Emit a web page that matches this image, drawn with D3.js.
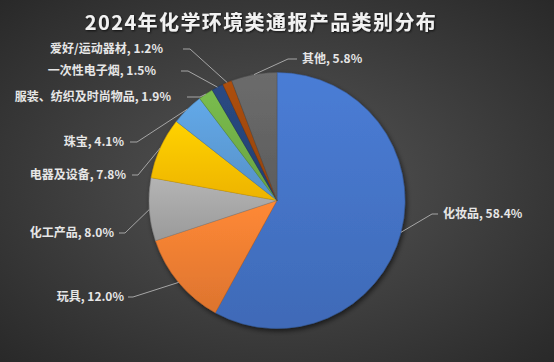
<!DOCTYPE html>
<html>
<head>
<meta charset="utf-8">
<script src="https://cdn.jsdelivr.net/npm/d3@7"></script>
<style>
  html, body { margin: 0; padding: 0; background: #3a3a3a; }
  svg { display: block; }
</style>
</head>
<body>
<script>
// chart data
const categories = ['化妆品', '玩具', '化工产品', '电器及设备', '珠宝', '服装、纺织及时尚物品', '一次性电子烟', '爱好/运动器材', '其他'];
const shares = [58.4, 12.0, 8.0, 7.8, 4.1, 1.9, 1.5, 1.2, 5.8];
const colors = ['#4472c4', '#ed7d31', '#a5a5a5', '#ffc000', '#5b9bd5', '#70ad47', '#264478', '#9e480e', '#636363'];
const title = '2024年化学环境类通报产品类别分布';

// where each leader line bends and where its label sits
const labelLayout = [
  { elbow: [432, 214], tail: 438, tx: 443, anchor: 'start' },
  { elbow: [133, 297], tail: 128, tx: 124, anchor: 'end' },
  { elbow: [125, 233], tail: 119, tx: 114, anchor: 'end' },
  { elbow: [138, 175], tail: 132, tx: 126, anchor: 'end' },
  { elbow: [137, 142], tail: 130, tx: 124, anchor: 'end' },
  { elbow: [200, 97], tail: 187, tx: 171, anchor: 'end' },
  { elbow: [188, 71], tail: 181, tx: 156, anchor: 'end' },
  { elbow: [190, 49], tail: 183, tx: 163, anchor: 'end' },
  { elbow: [288, 59], tail: 297, tx: 302, anchor: 'start' }
];

const width = 554, height = 362;
const cx = 277, cy = 200.5, radius = 128;

const svg = d3.select('body').append('svg')
  .attr('width', width)
  .attr('height', height);

const defs = svg.append('defs');

const bg = defs.append('radialGradient')
  .attr('id', 'bg')
  .attr('cx', '50%').attr('cy', '50%').attr('r', '75%');
bg.append('stop').attr('offset', '0%').attr('stop-color', '#565656');
bg.append('stop').attr('offset', '100%').attr('stop-color', '#262626');

const shadow = defs.append('filter')
  .attr('id', 'shadow')
  .attr('x', '-20%').attr('y', '-20%').attr('width', '140%').attr('height', '140%');
shadow.append('feDropShadow')
  .attr('dx', 1.5).attr('dy', 2.5).attr('stdDeviation', 2.5)
  .attr('flood-color', '#000').attr('flood-opacity', 0.6);

const titleShadow = defs.append('filter').attr('id', 'tshadow');
titleShadow.append('feDropShadow')
  .attr('dx', 1).attr('dy', 1).attr('stdDeviation', 0.8)
  .attr('flood-color', '#000').attr('flood-opacity', 0.7);

// gradient per slice colour: lighter at the top, darker at the bottom
colors.forEach((c, i) => {
  const g = defs.append('linearGradient')
    .attr('id', 'slice' + i)
    .attr('x1', 0).attr('y1', 0).attr('x2', 0).attr('y2', 1);
  g.append('stop').attr('offset', '0%').attr('stop-color', d3.color(c).brighter(0.25));
  g.append('stop').attr('offset', '100%').attr('stop-color', d3.color(c).darker(0.2));
});

svg.append('rect')
  .attr('width', width)
  .attr('height', height)
  .attr('fill', 'url(#bg)');

svg.append('text')
  .attr('x', 261)
  .attr('y', 30)
  .attr('text-anchor', 'middle')
  .attr('fill', '#f2f2f2')
  .attr('font-family', '"Noto Sans CJK SC", "Noto Sans", sans-serif')
  .attr('font-size', 20)
  .attr('font-weight', 'bold')
  .attr('letter-spacing', 1.4)
  .attr('filter', 'url(#tshadow)')
  .text(title);

const rows = categories.map((c, i) => ({ name: c, value: shares[i], color: colors[i], idx: i }));

const pie = d3.pie()
  .sort(null)
  .value(d => d.value);

const arc = d3.arc()
  .innerRadius(0)
  .outerRadius(radius);

const edge = d3.arc()
  .innerRadius(radius)
  .outerRadius(radius);

const arcs = pie(rows);

const chart = svg.append('g')
  .attr('transform', `translate(${cx},${cy})`);

chart.append('g')
  .attr('filter', 'url(#shadow)')
  .selectAll('path')
  .data(arcs)
  .enter()
  .append('path')
  .attr('d', arc)
  .attr('fill', d => `url(#slice${d.data.idx})`)
  .attr('stroke', d => d3.color(d.data.color).darker(0.6))
  .attr('stroke-width', 0.5);

// leader lines
const fmt = d3.format('.1f');
const line = d3.line();

svg.append('g')
  .selectAll('path')
  .data(arcs)
  .enter()
  .append('path')
  .attr('d', d => {
    const p = edge.centroid(d);
    const L = labelLayout[d.index];
    return line([[cx + p[0], cy + p[1]], L.elbow, [L.tail, L.elbow[1]]]);
  })
  .attr('fill', 'none')
  .attr('stroke', '#a6a6a6')
  .attr('stroke-width', 1);

svg.append('g')
  .selectAll('text')
  .data(arcs)
  .enter()
  .append('text')
  .attr('x', d => labelLayout[d.index].tx)
  .attr('y', d => labelLayout[d.index].elbow[1])
  .attr('dy', '0.35em')
  .attr('text-anchor', d => labelLayout[d.index].anchor)
  .attr('fill', '#e6e6e6')
  .attr('font-family', '"Noto Sans CJK SC", "Noto Sans", sans-serif')
  .attr('font-size', 12)
  .attr('font-weight', 'bold')
  .text(d => `${d.data.name}, ${fmt(d.data.value)}%`);
</script>
</body>
</html>
